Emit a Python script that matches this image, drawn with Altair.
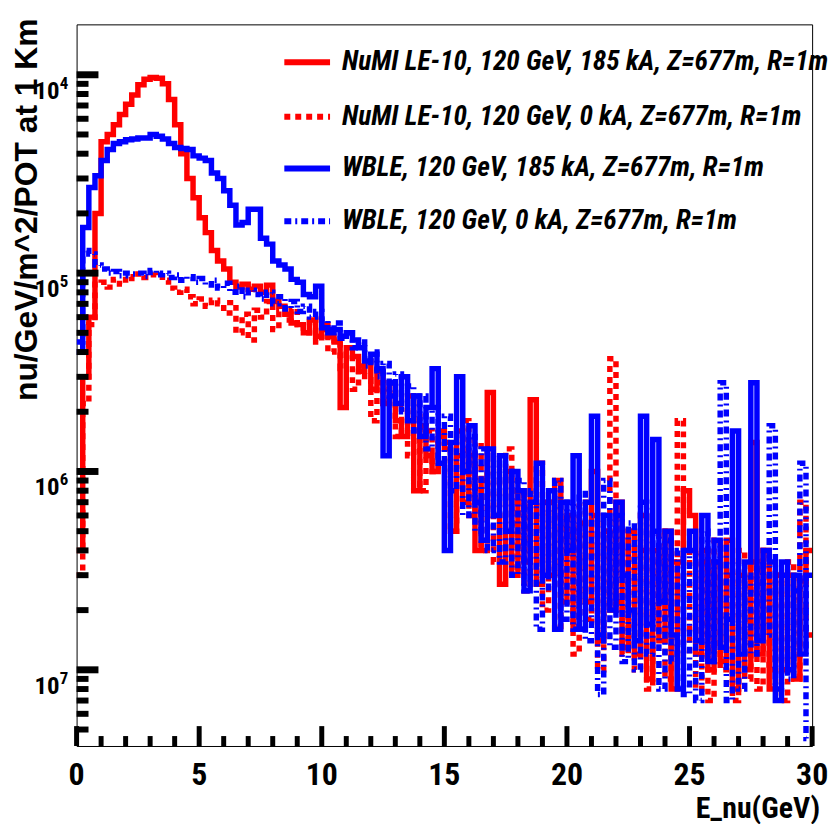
import altair as alt
import pandas as pd

# ---------------- data (bin contents, 0.25 GeV bins from 0 to 30 GeV) ----------------
BIN_WIDTH = 0.25
N_BINS = 120

LABELS = [
    "NuMI LE-10, 120 GeV, 185 kA, Z=677m, R=1m",
    "NuMI LE-10, 120 GeV, 0 kA, Z=677m, R=1m",
    "WBLE, 120 GeV, 185 kA, Z=677m, R=1m",
    "WBLE, 120 GeV, 0 kA, Z=677m, R=1m",
]

RED_185 = [
    4e-7, 3e-6, 6e-6, 2e-5, 4.6e-5, 5.0e-5, 5.6e-5, 6.3e-5, 7.1e-5, 7.9e-5,
    8.9e-5, 9.5e-5, 9.7e-5, 9.6e-5, 9.0e-5, 7.5e-5, 5.6e-5, 4.0e-5, 3.0e-5, 2.4e-5,
    1.9e-5, 1.6e-5, 1.3e-5, 1.15e-5, 1.05e-5, 9.0e-6, 8.5e-6, 8.8e-6, 8.3e-6, 8.6e-6,
    8.0e-6, 8.7e-6, 7.2e-6, 6.8e-6, 6.2e-6, 5.6e-6, 5.5e-6, 5.0e-6, 5.8e-6, 4.8e-6,
    5.5e-6, 4.8e-6, 4.5e-6, 2.1e-6, 4.2e-6, 3.8e-6, 3.2e-6, 3.6e-6, 2.6e-6, 3.2e-6,
    2.2e-6, 2.8e-6, 1.8e-6, 1.5e-6, 2.4e-6, 8e-7, 1.7e-6, 1.2e-6, 1.0e-6, 1.6e-6,
    1.3e-6, 5e-7, 1.6e-6, 7e-7, 1.2e-6, 4e-7, 9e-7, 2.5e-6, 6e-7, 2.7e-7,
    1.0e-6, 3e-7, 8e-7, 3.5e-7, 2.3e-6, 2.7e-7, 7e-7, 3e-7, 9e-7, 2.2e-7,
    6e-7, 1.6e-7, 5.5e-7, 2.2e-7, 1.0e-6, 1.4e-7, 5e-7, 2e-7, 7e-7, 1.3e-7,
    5e-7, 1.2e-7, 6e-7, 9e-8, 4e-7, 1.4e-7, 5e-7, 8e-8, 3.5e-7, 8e-7,
    6e-7, 1.2e-7, 4e-7, 1e-7, 3.5e-7, 1.1e-7, 4.5e-7, 8e-8, 3e-7, 1.0e-7,
    1.4e-6, 1.2e-7, 4e-7, 8e-8, 3e-7, 1.0e-7, 3e-7, 9e-8, 2.8e-7, 4e-7,
]

RED_0 = [
    3e-7, 2.2e-6, 5.5e-6, 8.8e-6, 9.0e-6, 8.5e-6, 9.3e-6, 8.8e-6, 9.6e-6, 9.4e-6,
    9.9e-6, 9.5e-6, 9.8e-6, 9.6e-6, 9.2e-6, 8.4e-6, 8.0e-6, 8.3e-6, 7.6e-6, 7.0e-6,
    7.4e-6, 6.8e-6, 7.3e-6, 7.0e-6, 6.3e-6, 7.1e-6, 5.0e-6, 6.2e-6, 4.6e-6, 6.5e-6,
    6.0e-6, 7.2e-6, 5.2e-6, 6.4e-6, 5.8e-6, 6.6e-6, 5.5e-6, 5.0e-6, 5.9e-6, 4.5e-6,
    5.2e-6, 4.0e-6, 4.6e-6, 3.3e-6, 3.9e-6, 2.6e-6, 3.4e-6, 2.9e-6, 1.8e-6, 2.8e-6,
    2.2e-6, 2.6e-6, 1.5e-6, 2.1e-6, 1.2e-6, 1.9e-6, 8e-7, 1.6e-6, 1.0e-6, 1.5e-6,
    1.4e-6, 5e-7, 1.2e-6, 1.8e-6, 6e-7, 1.4e-6, 4e-7, 1.0e-6, 3.5e-7, 9e-7,
    1.3e-6, 3e-7, 8e-7, 2.5e-7, 7e-7, 1.1e-6, 2e-7, 7e-7, 1.6e-7, 6e-7,
    5e-7, 1.2e-7, 7e-7, 1.8e-7, 6e-7, 1.0e-7, 5e-7, 3.7e-6, 2.2e-7, 1.2e-7,
    5e-7, 1.0e-7, 4e-7, 8e-8, 3.5e-7, 5e-7, 9e-8, 3.5e-7, 1.8e-6, 1.2e-7,
    4e-7, 8e-8, 3.5e-7, 7e-8, 4.5e-7, 1.0e-7, 3e-7, 7e-8, 4e-7, 9e-8,
    3.5e-7, 8e-8, 4e-7, 1e-7, 3e-7, 7e-8, 3.5e-7, 9e-8, 7e-7, 1.5e-7,
]

BLUE_185 = [
    4e-6, 1.7e-5, 2.7e-5, 3.1e-5, 3.7e-5, 4.2e-5, 4.5e-5, 4.6e-5, 4.7e-5, 4.75e-5,
    4.8e-5, 4.8e-5, 5.0e-5, 4.9e-5, 4.75e-5, 4.5e-5, 4.3e-5, 4.25e-5, 4.2e-5, 3.9e-5,
    3.8e-5, 3.7e-5, 3.2e-5, 3.0e-5, 2.6e-5, 2.2e-5, 1.75e-5, 1.8e-5, 2.1e-5, 2.1e-5,
    1.5e-5, 1.4e-5, 1.15e-5, 1.1e-5, 1.05e-5, 9.3e-6, 9.0e-6, 7.8e-6, 7.6e-6, 8.6e-6,
    5.3e-6, 5.0e-6, 5.2e-6, 4.8e-6, 5.0e-6, 4.6e-6, 4.2e-6, 3.6e-6, 3.9e-6, 3.3e-6,
    1.2e-6, 2.8e-6, 2.2e-6, 3.0e-6, 1.8e-6, 2.4e-6, 1.5e-6, 2.1e-6, 3.3e-6, 1.1e-6,
    4e-7, 1.4e-6, 3.0e-6, 1.0e-6, 1.7e-6, 7e-7, 4.5e-7, 1.3e-6, 6e-7, 1.2e-6,
    5e-7, 1.0e-6, 8e-7, 2.5e-7, 7e-7, 1.1e-6, 3e-7, 8e-7, 1.6e-7, 7e-7,
    4e-7, 1.2e-6, 1.6e-7, 7e-7, 1.9e-6, 1.5e-7, 6e-7, 2e-7, 7e-7, 3e-7,
    2e-7, 1.4e-7, 1.9e-6, 1.7e-7, 1.45e-6, 2.2e-7, 5e-7, 1.5e-7, 8e-8, 4e-7,
    5e-7, 1.4e-7, 6e-7, 1.1e-7, 4.5e-7, 1.3e-7, 1.8e-7, 1.6e-6, 1.2e-7, 3.5e-7,
    2.8e-6, 1.4e-7, 4e-7, 3.5e-7, 7e-8, 3.5e-7, 1e-7, 3e-7, 1.2e-7, 3e-7,
]

BLUE_0 = [
    4.5e-6, 1.3e-5, 1.25e-5, 1.1e-5, 1.05e-5, 1.0e-5, 1.02e-5, 9.7e-6, 1.0e-5, 9.9e-6,
    1.0e-5, 9.6e-6, 1.03e-5, 9.8e-6, 1.0e-5, 9.5e-6, 9.8e-6, 9.2e-6, 9.6e-6, 9.0e-6,
    9.4e-6, 8.7e-6, 9.2e-6, 8.4e-6, 8.9e-6, 8.0e-6, 8.6e-6, 7.6e-6, 8.2e-6, 7.8e-6,
    7.4e-6, 8.0e-6, 7.0e-6, 7.6e-6, 6.6e-6, 7.2e-6, 6.4e-6, 6.8e-6, 6.0e-6, 6.4e-6,
    5.8e-6, 5.2e-6, 5.6e-6, 4.7e-6, 5.0e-6, 4.2e-6, 4.5e-6, 3.4e-6, 4.0e-6, 3.0e-6,
    3.5e-6, 2.4e-6, 3.1e-6, 2.0e-6, 2.7e-6, 1.6e-6, 2.4e-6, 1.3e-6, 2.1e-6, 1.1e-6,
    1.9e-6, 8e-7, 1.6e-6, 6e-7, 1.5e-6, 5e-7, 1.3e-6, 4e-7, 1.2e-6, 3.5e-7,
    1.0e-6, 3e-7, 9e-7, 2.5e-7, 8e-7, 1.6e-7, 7e-7, 2.5e-7, 9e-7, 1.8e-7,
    7e-7, 1.6e-7, 8e-7, 1.4e-7, 6e-7, 7.5e-8, 9e-7, 1.3e-7, 6e-7, 1.1e-7,
    5.5e-7, 1e-7, 7e-7, 1.2e-7, 5e-7, 8e-8, 4.5e-7, 1.1e-7, 4e-7, 7.5e-8,
    4e-7, 7e-8, 5e-7, 1.1e-7, 3.5e-7, 2.8e-6, 7e-8, 3.5e-7, 8e-8, 3e-7,
    1.2e-7, 3.5e-7, 1.5e-7, 1.7e-6, 8e-8, 3e-7, 9e-8, 2.5e-7, 1.1e-6, 4.5e-8,
]

X_MAJOR = [0, 5, 10, 15, 20, 25, 30]
X_MAJOR_TEXT = ["0", "5", "10", "15", "20", "25", "30"]
X_MINOR = [v for v in range(1, 30) if v % 5 != 0]
Y_MAJOR = [1e-4, 1e-5, 1e-6, 1e-7]
Y_MAJOR_TEXT = ["10", "10", "10", "10"]
Y_MAJOR_EXP = ["4", "5", "6", "7"]
Y_MINOR = [m * 10.0 ** d for d in (-8, -7, -6, -5) for m in range(2, 10)]
Y_MINOR = [v for v in Y_MINOR if 4.13e-8 < v < 1.795e-4]

X_TITLE = "E_nu(GeV)"
Y_TITLE = "nu/GeV/m^2/POT at 1 Km"

# ---------------- style ----------------
W, H = 740, 726
FONT = "Liberation Sans, Arial, sans-serif"
NARROW = "Roboto Condensed, Liberation Sans, sans-serif"
RED, BLUE = "#ff0000", "#0000ff"
LW = 5.5

xs = alt.Scale(domain=[0, 30], nice=False, zero=False)
ys = alt.Scale(type="log", domain=[4.13e-8, 1.795e-4], nice=False)

edges = [i * BIN_WIDTH for i in range(N_BINS + 1)]


def hist_df(vals):
    return pd.DataFrame({"E": edges, "v": list(vals) + [vals[-1]]})


series = [
    (RED_185, RED, None),
    (RED_0, RED, [6, 5]),
    (BLUE_185, BLUE, None),
    (BLUE_0, BLUE, [7, 4, 2, 4]),
]

layers = []
for i, (vals, col, dash) in enumerate(series):
    mk = dict(color=col, strokeWidth=LW, interpolate="step-after", clip=True)
    if dash:
        mk["strokeDash"] = dash
    if i == 0:
        xenc = alt.X("E:Q", scale=xs, axis=alt.Axis(
            labels=False, ticks=False, grid=False, domainWidth=6,
            domainColor="black", title=None))
        yenc = alt.Y("v:Q", scale=ys, axis=alt.Axis(
            labels=False, ticks=False, grid=False, domainWidth=6,
            domainColor="black", title=None))
    else:
        xenc = alt.X("E:Q", scale=xs, axis=None)
        yenc = alt.Y("v:Q", scale=ys, axis=None)
    layers.append(alt.Chart(hist_df(vals)).mark_line(**mk).encode(x=xenc, y=yenc))

# ticks (inward, ROOT style)
xmaj = alt.Chart(pd.DataFrame({"t": X_MAJOR})).mark_rule(color="black", strokeWidth=5).encode(
    x=alt.X("t:Q", scale=xs, axis=None), y=alt.value(H), y2=alt.value(H - 20))
xmin = alt.Chart(pd.DataFrame({"t": X_MINOR})).mark_rule(color="black", strokeWidth=5).encode(
    x=alt.X("t:Q", scale=xs, axis=None), y=alt.value(H), y2=alt.value(H - 10))
ymaj = alt.Chart(pd.DataFrame({"t": Y_MAJOR})).mark_rule(color="black", strokeWidth=7).encode(
    y=alt.Y("t:Q", scale=ys, axis=None), x=alt.value(0), x2=alt.value(22))
ymin = alt.Chart(pd.DataFrame({"t": Y_MINOR})).mark_rule(color="black", strokeWidth=6).encode(
    y=alt.Y("t:Q", scale=ys, axis=None), x=alt.value(0), x2=alt.value(12))

xlab = alt.Chart(pd.DataFrame({"t": X_MAJOR, "s": X_MAJOR_TEXT})).mark_text(
    align="center", baseline="alphabetic", font=NARROW, fontSize=32,
    fontWeight="bold", color="black").encode(
    x=alt.X("t:Q", scale=xs, axis=None), y=alt.value(765), text="s:N")

ylab_df = pd.DataFrame({"t": Y_MAJOR, "m": Y_MAJOR_TEXT, "e": Y_MAJOR_EXP})
ylab = alt.Chart(ylab_df).mark_text(
    align="right", baseline="alphabetic", dy=24, font=NARROW, fontSize=25,
    fontWeight="bold", color="black").encode(
    y=alt.Y("t:Q", scale=ys, axis=None), x=alt.value(-17), text="m:N")
yexp = alt.Chart(ylab_df).mark_text(
    align="left", baseline="alphabetic", dy=14, font=NARROW, fontSize=17,
    fontWeight="bold", color="black").encode(
    y=alt.Y("t:Q", scale=ys, axis=None), x=alt.value(-17), text="e:N")

ytitle = alt.Chart(pd.DataFrame({"s": [Y_TITLE]})).mark_text(
    angle=270, align="right", baseline="middle", font=FONT, fontSize=32,
    fontWeight="bold", color="black").encode(
    x=alt.value(-50), y=alt.value(-6), text="s:N")
xtitle = alt.Chart(pd.DataFrame({"s": [X_TITLE]})).mark_text(
    align="right", baseline="alphabetic", font=NARROW, fontSize=30,
    fontWeight="bold", color="black").encode(
    x=alt.value(748), y=alt.value(798), text="s:N")

# legend (no box, ROOT TLegend style)
legend_layers = []
row_y = [38, 93, 145, 198]
for i, (vals, col, dash) in enumerate(series):
    rk = dict(color=col, strokeWidth=6)
    if dash:
        rk["strokeDash"] = dash
    d = pd.DataFrame({"s": [LABELS[i]]})
    legend_layers.append(alt.Chart(d).mark_rule(**rk).encode(
        x=alt.value(209), x2=alt.value(255), y=alt.value(row_y[i])))
    legend_layers.append(alt.Chart(d).mark_text(
        align="left", baseline="middle", font=NARROW, fontSize=27.5,
        fontWeight="bold", fontStyle="italic", color="black").encode(
        x=alt.value(267), y=alt.value(row_y[i]), text="s:N"))

chart = alt.layer(
    *layers, xmaj, xmin, ymaj, ymin, xlab, ylab, yexp, ytitle, xtitle, *legend_layers
).properties(
    width=W, height=H,
    autosize=alt.AutoSizeParams(type="none"),
    padding={"left": 69, "top": 14, "right": 20, "bottom": 76},
    background="white",
).configure_view(stroke="black", strokeWidth=1)

chart.save("out.html", embed_options={"renderer": "svg", "actions": False})
